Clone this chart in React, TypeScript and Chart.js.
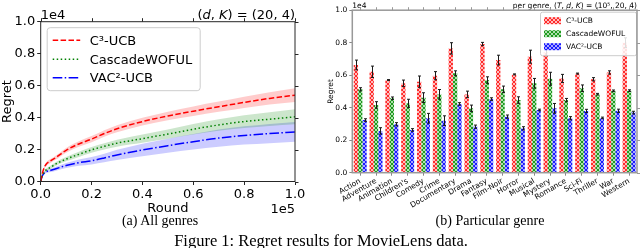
import React, { useEffect, useRef } from "react";
import { Chart, registerables } from "chart.js";
Chart.register(...registerables);

const FONT = "'DejaVu Sans', sans-serif";

// ---------- (a) All genres : x in units of 1e5 rounds, y in units of 1e4 ----------
const ROUNDS = [0, 0.005, 0.01, 0.02, 0.04, 0.06, 0.1, 0.15, 0.2, 0.25, 0.3, 0.4, 0.5, 0.6, 0.7, 0.8, 0.9, 1.0];
const C3_MEAN = [0, 0.04, 0.07, 0.105, 0.13, 0.15, 0.195, 0.235, 0.265, 0.3, 0.33, 0.375, 0.41, 0.44, 0.468, 0.495, 0.52, 0.54];
const C3_HI = [0, 0.045, 0.077, 0.115, 0.142, 0.163, 0.21, 0.252, 0.284, 0.32, 0.352, 0.399, 0.437, 0.47, 0.5, 0.53, 0.558, 0.583];
const C3_LO = [0, 0.035, 0.063, 0.095, 0.118, 0.137, 0.18, 0.218, 0.246, 0.28, 0.308, 0.351, 0.383, 0.41, 0.436, 0.46, 0.482, 0.497];
const WOFUL_MEAN = [0, 0.03, 0.05, 0.07, 0.09, 0.11, 0.14, 0.17, 0.198, 0.22, 0.24, 0.268, 0.297, 0.327, 0.354, 0.375, 0.39, 0.405];
const WOFUL_HI = [0, 0.034, 0.056, 0.078, 0.1, 0.122, 0.154, 0.186, 0.216, 0.24, 0.262, 0.294, 0.326, 0.36, 0.39, 0.415, 0.433, 0.452];
const WOFUL_LO = [0, 0.026, 0.044, 0.062, 0.08, 0.098, 0.126, 0.154, 0.18, 0.2, 0.218, 0.242, 0.268, 0.294, 0.318, 0.335, 0.347, 0.358];
const VAC_MEAN = [0, 0.03, 0.045, 0.06, 0.07, 0.08, 0.1, 0.118, 0.13, 0.147, 0.166, 0.197, 0.224, 0.249, 0.272, 0.288, 0.3, 0.31];
const VAC_HI = [0, 0.034, 0.051, 0.068, 0.08, 0.092, 0.115, 0.137, 0.153, 0.174, 0.198, 0.236, 0.268, 0.298, 0.326, 0.345, 0.36, 0.372];
const VAC_LO = [0, 0.026, 0.039, 0.052, 0.06, 0.068, 0.085, 0.099, 0.107, 0.12, 0.134, 0.158, 0.18, 0.2, 0.218, 0.231, 0.24, 0.248];

// ---------- (b) Particular genre ----------
const GENRES = ["Action", "Adventure", "Animation", "Children's", "Comedy", "Crime", "Documentary", "Drama", "Fantasy", "Film-Noir", "Horror", "Musical", "Mystery", "Romance", "Sci-Fi", "Thriller", "War", "Western"];
const C3_BAR = [0.663, 0.621, 0.57, 0.55, 0.56, 0.597, 0.765, 0.482, 0.792, 0.693, 0.605, 0.714, 0.74, 0.58, 0.61, 0.575, 0.617, 0.8];
const C3_ERR = [0.03, 0.035, 0.003, 0.02, 0.035, 0.025, 0.035, 0.02, 0.01, 0.03, 0.003, 0.04, 0.02, 0.025, 0.003, 0.01, 0.01, 0.03];
const WOFUL_BAR = [0.513, 0.417, 0.458, 0.427, 0.462, 0.482, 0.612, 0.396, 0.57, 0.513, 0.447, 0.55, 0.578, 0.447, 0.52, 0.483, 0.504, 0.505];
const WOFUL_ERR = [0.01, 0.02, 0.008, 0.025, 0.03, 0.03, 0.015, 0.02, 0.02, 0.02, 0.02, 0.03, 0.04, 0.01, 0.02, 0.005, 0.005, 0.005];
const VAC_BAR = [0.324, 0.257, 0.298, 0.263, 0.335, 0.32, 0.423, 0.283, 0.453, 0.345, 0.273, 0.386, 0.396, 0.335, 0.38, 0.337, 0.381, 0.37];
const VAC_ERR = [0.008, 0.02, 0.01, 0.008, 0.03, 0.03, 0.008, 0.01, 0.008, 0.01, 0.01, 0.005, 0.03, 0.01, 0.01, 0.005, 0.01, 0.008];

const SERIES_NAMES = ["C\u00b3-UCB", "CascadeWOFUL", "VAC\u00b2-UCB"];
const LINE_COLORS = ["#ff0000", "#008000", "#0000ff"];
const BAND_COLORS = ["rgba(255,0,0,0.2)", "rgba(0,128,0,0.2)", "rgba(0,0,255,0.2)"];
const DASHES = [[5.5, 2.4], [1.5, 2.5], [9.6, 2.4, 1.5, 2.4]];

type Part = [string, boolean];
function drawRich(ctx: CanvasRenderingContext2D, parts: Part[], x: number, y: number, size: number, align: "left" | "right") {
  const f = (it: boolean) => `${it ? "italic " : ""}${size}px ${FONT}`;
  let total = 0;
  for (const [t, it] of parts) { ctx.font = f(it); total += ctx.measureText(t).width; }
  let cx = align === "right" ? x - total : x;
  ctx.textBaseline = "alphabetic";
  ctx.textAlign = "left";
  for (const [t, it] of parts) { ctx.font = f(it); ctx.fillText(t, cx, y); cx += ctx.measureText(t).width; }
}

function framePlugin(color: string, lw: number, len: number) {
  return {
    id: "frame",
    afterDraw(chart: any) {
      const { ctx, chartArea: a, scales } = chart;
      ctx.save();
      ctx.strokeStyle = color;
      ctx.lineWidth = lw;
      ctx.setLineDash([]);
      ctx.strokeRect(a.left, a.top, a.right - a.left, a.bottom - a.top);
      ctx.beginPath();
      scales.y.ticks.forEach((_: any, i: number) => {
        const y = Math.round(scales.y.getPixelForTick(i)) + 0.5;
        ctx.moveTo(a.right, y); ctx.lineTo(a.right + len, y);
      });
      scales.x.ticks.forEach((_: any, i: number) => {
        const x = Math.round(scales.x.getPixelForTick(i)) + 0.5;
        ctx.moveTo(x, a.top); ctx.lineTo(x, a.top - len);
      });
      ctx.lineWidth = 1;
      ctx.stroke();
      ctx.restore();
    },
  };
}

function makeHatch(ctx: CanvasRenderingContext2D, bg: string, fg: string) {
  const c = document.createElement("canvas");
  c.width = 4; c.height = 4;
  const g = c.getContext("2d")!;
  g.fillStyle = bg; g.fillRect(0, 0, 4, 4);
  g.fillStyle = fg;
  for (let i = 0; i < 4; i++) { g.fillRect(i, i, 1, 1); g.fillRect(3 - i, i, 1, 1); }
  return ctx.createPattern(c, "repeat")!;
}

function configA(): any {
  const means = [C3_MEAN, WOFUL_MEAN, VAC_MEAN];
  const his = [C3_HI, WOFUL_HI, VAC_HI];
  const los = [C3_LO, WOFUL_LO, VAC_LO];
  const pts = (arr: number[]) => ROUNDS.map((x, i) => ({ x, y: arr[i] }));
  const datasets: any[] = [];
  for (let s = 0; s < 3; s++) {
    const common = { pointRadius: 0, cubicInterpolationMode: "monotone" };
    datasets.push({ ...common, data: pts(his[s]), borderColor: "rgba(0,0,0,0)", borderWidth: 0, backgroundColor: BAND_COLORS[s], fill: "+1" });
    datasets.push({ ...common, data: pts(los[s]), borderColor: "rgba(0,0,0,0)", borderWidth: 0, fill: false });
    datasets.push({ ...common, data: pts(means[s]), borderColor: LINE_COLORS[s], borderWidth: 1.5, borderDash: DASHES[s], fill: false });
  }
  const tickFont = { family: FONT, size: 13 };
  const legendA = {
    id: "legendA",
    afterDatasetsDraw(chart: any) {
      const { ctx, chartArea: a } = chart;
      ctx.save();
      const bx = a.left + 6.5, by = a.top + 6, bw = 153, bh = 63;
      ctx.beginPath();
      ctx.roundRect(bx, by, bw, bh, 3);
      ctx.fillStyle = "rgba(255,255,255,0.85)";
      ctx.fill();
      ctx.strokeStyle = "#cccccc";
      ctx.lineWidth = 1;
      ctx.stroke();
      const rows = [by + 12.5, by + 31.5, by + 50];
      for (let s = 0; s < 3; s++) {
        ctx.beginPath();
        ctx.setLineDash(DASHES[s]);
        ctx.strokeStyle = LINE_COLORS[s];
        ctx.lineWidth = 1.5;
        ctx.moveTo(bx + 5.5, rows[s]); ctx.lineTo(bx + 33, rows[s]);
        ctx.stroke();
        ctx.setLineDash([]);
        ctx.fillStyle = "#000";
        ctx.font = `13px ${FONT}`;
        ctx.textBaseline = "middle";
        ctx.textAlign = "left";
        ctx.fillText(SERIES_NAMES[s], bx + 42.5, rows[s] + 1);
      }
      ctx.restore();
    },
  };
  const textsA = {
    id: "textsA",
    afterDraw(chart: any) {
      const { ctx, chartArea: a } = chart;
      ctx.save();
      ctx.fillStyle = "#000";
      drawRich(ctx, [["1e4", false]], a.left, a.top - 3, 13, "left");
      drawRich(ctx, [["(", false], ["d", true], [", ", false], ["K", true], [") = (20, 4)", false]], a.right, a.top - 3, 13, "right");
      drawRich(ctx, [["1e5", false]], a.right, a.bottom + 31.5, 13, "right");
      ctx.restore();
    },
  };
  return {
    type: "line",
    data: { datasets },
    options: {
      animation: false, responsive: false, devicePixelRatio: 1, events: [],
      layout: { padding: { left: 0, right: 25, top: 21.7, bottom: 0 } },
      plugins: { legend: { display: false }, tooltip: { enabled: false } },
      scales: {
        x: {
          type: "linear", min: 0, max: 1,
          ticks: { stepSize: 0.2, callback: (v: number) => v.toFixed(1), font: tickFont, color: "#000", padding: 2, maxRotation: 0 },
          grid: { drawOnChartArea: false, tickLength: 3.5, color: "#262626" },
          border: { display: false },
          title: { display: true, text: "Round", font: tickFont, color: "#000", padding: 0 },
          afterFit: (s: any) => { s.height = 34.5; },
        },
        y: {
          min: 0, max: 1,
          ticks: { stepSize: 0.2, callback: (v: number) => v.toFixed(1), font: tickFont, color: "#000", padding: 2 },
          grid: { drawOnChartArea: false, tickLength: 3.5, color: "#262626" },
          border: { display: false },
          title: { display: true, text: "Regret", font: tickFont, color: "#000", padding: 0 },
          afterFit: (s: any) => { s.width = 40.7; },
        },
      },
    },
    plugins: [legendA, textsA, framePlugin("#262626", 1, 3.5)],
  };
}

function configB(canvas: HTMLCanvasElement): any {
  const ctx0 = canvas.getContext("2d")!;
  const patterns = [
    makeHatch(ctx0, "#ffbcbc", "#ff2a2a"),
    makeHatch(ctx0, "#aee0ae", "#1f9a1f"),
    makeHatch(ctx0, "#a8a8ff", "#1a1aff"),
  ];
  const vals = [C3_BAR, WOFUL_BAR, VAC_BAR];
  const errs = [C3_ERR, WOFUL_ERR, VAC_ERR];
  const datasets = vals.map((v, s) => ({
    label: SERIES_NAMES[s], data: v, backgroundColor: patterns[s], borderWidth: 0,
    categoryPercentage: 0.82, barPercentage: 1.0,
  }));
  const small = { family: FONT, size: 7.5 };
  const errorBars = {
    id: "errorBars",
    afterDatasetsDraw(chart: any) {
      const { ctx } = chart;
      const ys = chart.scales.y;
      ctx.save();
      ctx.strokeStyle = "#1a1a1a";
      ctx.lineWidth = 1;
      for (let s = 0; s < 3; s++) {
        const meta = chart.getDatasetMeta(s);
        meta.data.forEach((el: any, i: number) => {
          const x = Math.round(el.x) + 0.5;
          const t = ys.getPixelForValue(vals[s][i] + errs[s][i]);
          const b = ys.getPixelForValue(vals[s][i] - errs[s][i]);
          ctx.beginPath();
          ctx.moveTo(x, t); ctx.lineTo(x, b);
          ctx.moveTo(x - 1.5, t); ctx.lineTo(x + 1.5, t);
          ctx.moveTo(x - 1.5, b); ctx.lineTo(x + 1.5, b);
          ctx.stroke();
        });
      }
      ctx.restore();
    },
  };
  const legendB = {
    id: "legendB",
    afterDatasetsDraw(chart: any) {
      const { ctx, chartArea: a } = chart;
      ctx.save();
      const bw = 96, bh = 43.5;
      const bx = a.right - bw - 0.5, by = a.top + 2;
      ctx.beginPath();
      ctx.roundRect(bx, by, bw, bh, 2);
      ctx.fillStyle = "rgba(255,255,255,0.85)";
      ctx.fill();
      ctx.strokeStyle = "#cccccc";
      ctx.lineWidth = 1;
      ctx.stroke();
      const rows = [by + 8.5, by + 21.5, by + 34.5];
      for (let s = 0; s < 3; s++) {
        ctx.fillStyle = patterns[s];
        ctx.fillRect(bx + 3.5, rows[s] - 3.5, 17, 7);
        ctx.fillStyle = "#000";
        ctx.font = `7.5px ${FONT}`;
        ctx.textBaseline = "middle";
        ctx.textAlign = "left";
        ctx.fillText(SERIES_NAMES[s], bx + 25.5, rows[s] + 0.5);
      }
      ctx.restore();
    },
  };
  const textsB = {
    id: "textsB",
    afterDraw(chart: any) {
      const { ctx, chartArea: a } = chart;
      ctx.save();
      ctx.fillStyle = "#000";
      drawRich(ctx, [["1e4", false]], a.left, a.top - 2.2, 7.5, "left");
      drawRich(ctx, [["per genre, (", false], ["T", true], [", ", false], ["d", true], [", ", false], ["K", true], [") = (10\u2075, 20, 4)", false]], a.right, a.top - 2.5, 7.5, "right");
      ctx.restore();
    },
  };
  return {
    type: "bar",
    data: { labels: GENRES, datasets },
    options: {
      animation: false, responsive: false, devicePixelRatio: 1, events: [],
      layout: { padding: { left: 0, right: 3, top: 10.2, bottom: 0 } },
      plugins: { legend: { display: false }, tooltip: { enabled: false } },
      scales: {
        x: {
          ticks: { font: small, color: "#000", padding: 1, minRotation: 30, maxRotation: 30, autoSkip: false },
          grid: { drawOnChartArea: false, tickLength: 3, color: "#888", offset: false },
          border: { display: false },
          afterFit: (s: any) => { s.height = 37.3; },
        },
        y: {
          min: 0, max: 1,
          ticks: { stepSize: 0.2, callback: (v: number) => v.toFixed(1), font: small, color: "#000", padding: 2 },
          grid: { drawOnChartArea: false, tickLength: 3, color: "#888" },
          border: { display: false },
          title: { display: true, text: "Regret", font: small, color: "#000", padding: { top: 6.7, bottom: 0 } },
          afterFit: (s: any) => { s.width = 32.3; },
        },
      },
    },
    plugins: [errorBars, legendB, textsB, framePlugin("#999999", 1.5, 3)],
  };
}

export default function App() {
  const refA = useRef<HTMLCanvasElement>(null);
  const refB = useRef<HTMLCanvasElement>(null);
  useEffect(() => {
    const a = new Chart(refA.current!, configA());
    const b = new Chart(refB.current!, configB(refB.current!));
    return () => { a.destroy(); b.destroy(); };
  }, []);
  const serif = "'Liberation Serif', 'Times New Roman', serif";
  return (
    <div style={{ position: "absolute", left: 0, top: 0, width: 640, height: 248, background: "#fff", overflow: "hidden" }}>
      <canvas ref={refA} width={320} height={216} style={{ position: "absolute", left: 0, top: 0, width: 320, height: 216 }} />
      <canvas ref={refB} width={320} height={210} style={{ position: "absolute", left: 320, top: 0, width: 320, height: 210 }} />
      <div style={{ position: "absolute", left: 60, width: 200, top: 213, textAlign: "center", fontFamily: serif, fontSize: 14, lineHeight: "16px", color: "#000" }}>(a) All genres</div>
      <div style={{ position: "absolute", left: 390, width: 200, top: 213, textAlign: "center", fontFamily: serif, fontSize: 14, lineHeight: "16px", color: "#000" }}>(b) Particular genre</div>
      <div style={{ position: "absolute", left: 71, width: 500, top: 231, textAlign: "center", fontFamily: serif, fontSize: 16.5, lineHeight: "19px", color: "#000" }}>Figure 1: Regret results for MovieLens data.</div>
    </div>
  );
}
